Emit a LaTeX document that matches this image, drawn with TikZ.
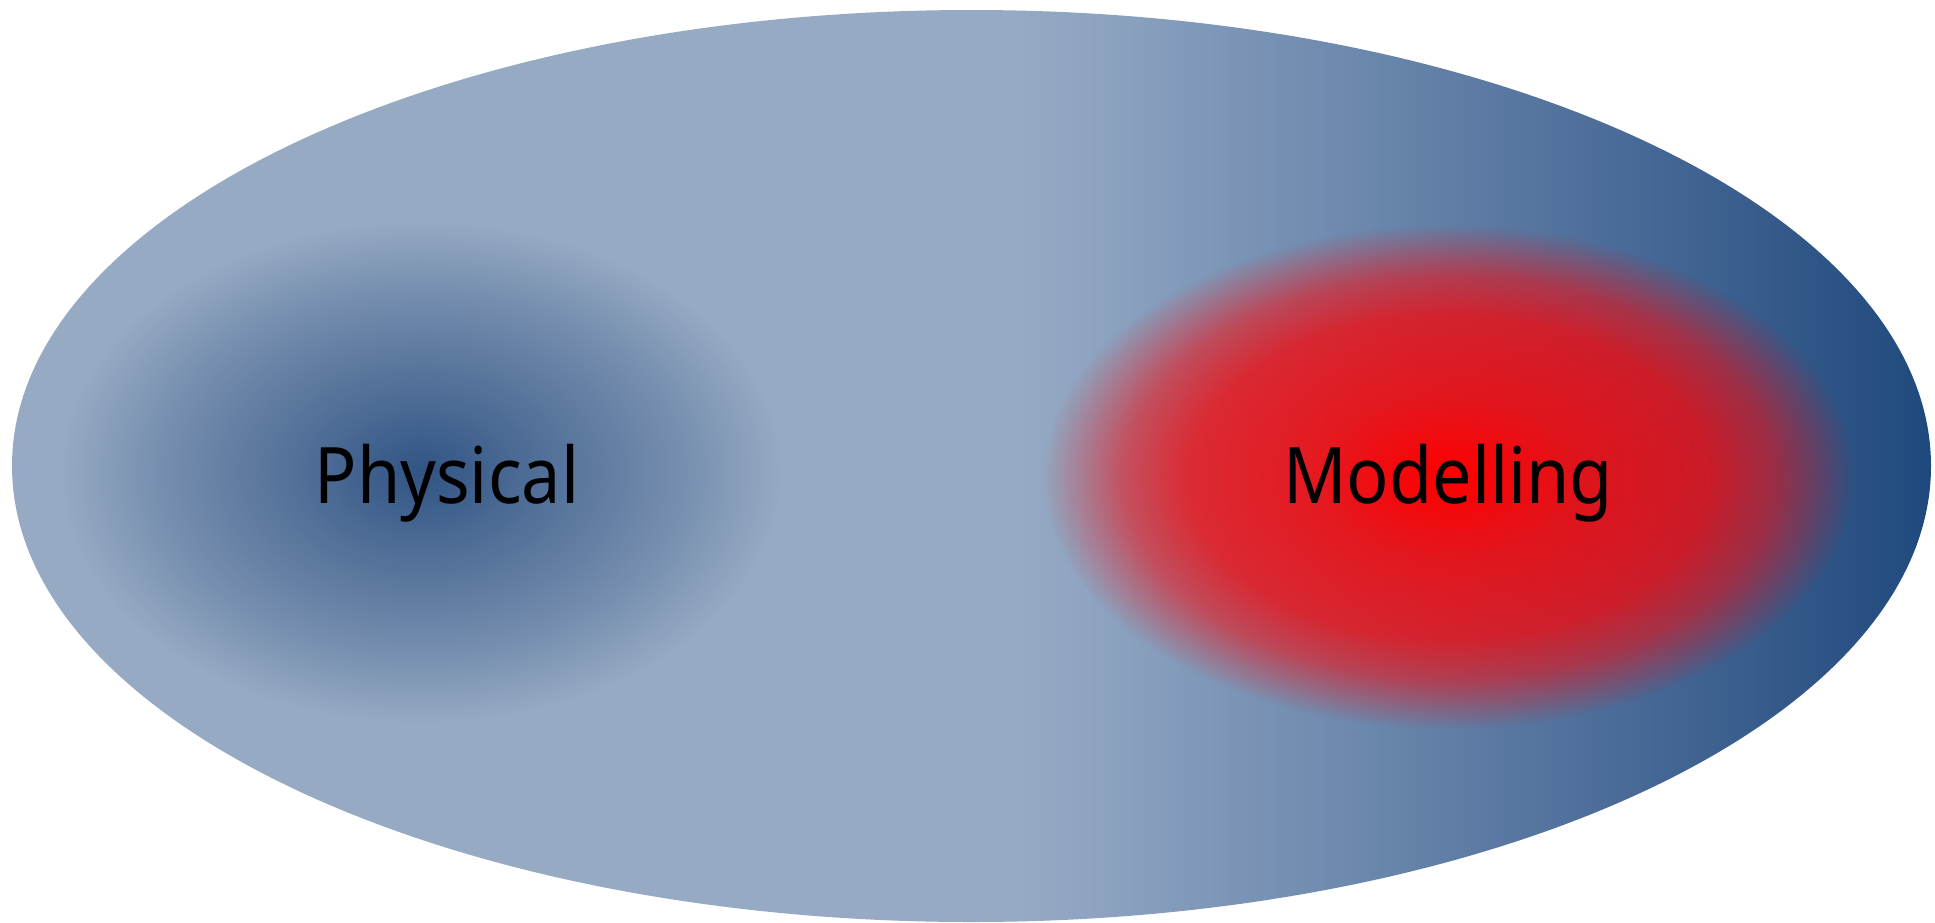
\documentclass[tikz,border=0pt]{standalone}
\usepackage{fontspec}
\setmainfont{Noto Sans}
\usetikzlibrary{fadings}
\definecolor{bgL}{HTML}{96AAC3}
\definecolor{bgM1}{HTML}{8DA3C0}
\definecolor{bgM2}{HTML}{6D89AE}
\definecolor{bgM3}{HTML}{4D6D99}
\definecolor{bgR}{HTML}{1F497D}
\definecolor{blobblue}{HTML}{24497C}
\definecolor{blobred}{HTML}{FF0000}
\pgfdeclarehorizontalshading{bigshade}{100bp}{color(0bp)=(bgL); color(25bp)=(bgL); color(51bp)=(bgL); color(53.3bp)=(bgM1); color(59.8bp)=(bgM2); color(66.4bp)=(bgM3); color(75bp)=(bgR); color(100bp)=(bgR)}
\pgfdeclareradialshading{bluefadeshade}{\pgfpointorigin}{color(0bp)=(pgftransparent!12); color(6bp)=(pgftransparent!32); color(14bp)=(pgftransparent!58); color(20bp)=(pgftransparent!80); color(25bp)=(pgftransparent!100); color(50bp)=(pgftransparent!100)}
\pgfdeclarefading{bluefade}{\pgfuseshading{bluefadeshade}}
\pgfdeclareradialshading{redfadeshade}{\pgfpointorigin}{color(0bp)=(pgftransparent!0); color(8bp)=(pgftransparent!18); color(16bp)=(pgftransparent!28); color(20bp)=(pgftransparent!50); color(23bp)=(pgftransparent!80); color(25bp)=(pgftransparent!100); color(50bp)=(pgftransparent!100)}
\pgfdeclarefading{redfade}{\pgfuseshading{redfadeshade}}
\tikzset{
  label/.style={font=\fontsize{78}{90}\selectfont, text=black, inner sep=0pt, anchor=base, xscale=0.9}
}
\begin{document}
\begin{tikzpicture}[x=1pt,y=-1pt]
\useasboundingbox (0,0) rectangle (1935,922);
\shade[shading=bigshade] (971.5,466) ellipse [x radius=959.5, y radius=456];
\fill[blobblue, path fading=bluefade, fit fading=true] (421,472) ellipse [x radius=360, y radius=250];
\fill[blobred, path fading=redfade, fit fading=true] (1449,477) ellipse [x radius=405, y radius=252];
\node[label] (phys) at (447,503) {Physical};
\node[label] (mod) at (1448,503) {Modelling};
\end{tikzpicture}
\end{document}
